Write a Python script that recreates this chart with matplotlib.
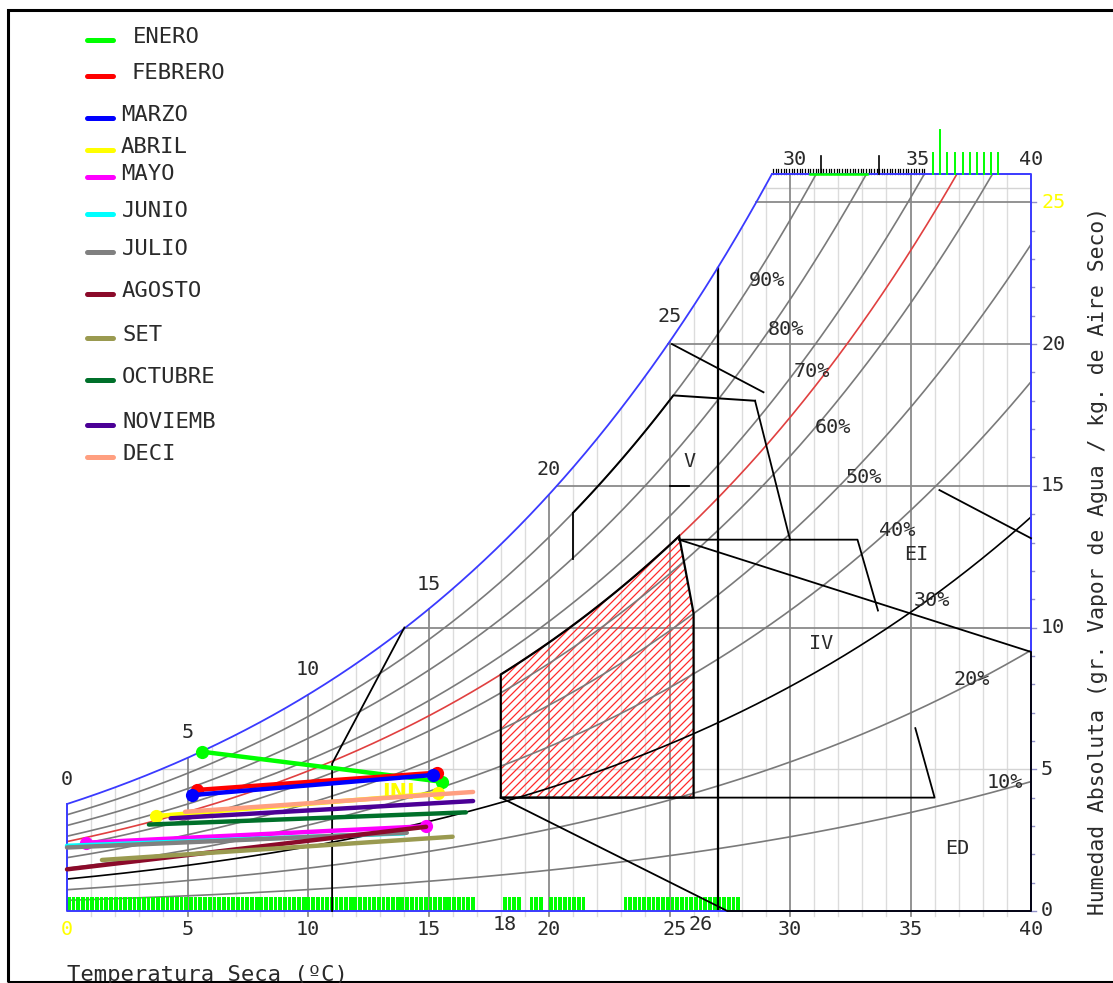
import numpy as np
import matplotlib
matplotlib.use("Agg")
import matplotlib.pyplot as plt
from matplotlib.patches import Polygon, Rectangle

# ---------------- data ----------------
months = ["ENERO", "FEBRERO", "MARZO", "ABRIL", "MAYO", "JUNIO", "JULIO",
          "AGOSTO", "SET", "OCTUBRE", "NOVIEMB", "DECI"]
month_colors = ["#00ff00", "#ff0000", "#0000ff", "#ffff00", "#ff00ff", "#00ffff",
                "#808080", "#8b0a2a", "#9a9a50", "#00702a", "#4b0096", "#ff9f80"]
# temperature (C) at the two ends of each monthly line
month_t1 = [5.6, 5.4, 5.2, 3.7, 0.8, 0.0, 0.0, 0.0, 1.45, 3.4, 4.3, 4.9]
month_t2 = [15.55, 15.35, 15.2, 15.4, 14.9, 14.0, 14.1, 14.9, 16.0, 16.55, 16.85, 16.85]
# absolute humidity (g/kg) at the two ends
month_w1 = [5.62, 4.27, 4.09, 3.35, 2.41, 2.30, 2.24, 1.47, 1.80, 3.05, 3.27, 3.50]
month_w2 = [4.56, 4.88, 4.80, 4.15, 2.99, 2.74, 2.76, 2.97, 2.62, 3.48, 3.88, 4.20]
month_dots = [True, True, True, True, True, False, False, False, False, False, False, False]

rh_levels = [10, 20, 30, 40, 50, 60, 70, 80, 90]
rh_comfort = 65
x_ticks = [0, 5, 10, 15, 20, 25, 30, 35, 40]
y_ticks = [0, 5, 10, 15, 20, 25]
temp_labels_sat = [0, 5, 10, 15, 20, 25]

# green occupancy ranges at the bottom (C)
green_ranges = [(0.0, 16.9), (18.1, 18.9), (19.2, 19.8), (20.0, 21.6), (23.1, 27.9)]
green_top_ticks = [35.92, 36.53, 36.85, 37.16, 37.47, 37.75, 38.05, 38.34, 38.64]
green_top_tall = [36.22]

# zones (T, w)
comfort_t = (18.0, 25.4, 26.0)
zone_lines = [
    [(14.0, 10.0), (11.0, 5.2), (11.0, 0.0)],
    [(18.0, 4.0), (36.0, 4.0), (35.2, 6.45)],
    [(18.0, 4.0), (27.4, 0.0), (40.0, 0.0), (40.0, 9.14), (25.4, 13.1)],
    [(25.4, 13.1), (32.8, 13.1), (33.65, 10.6)],
    [(28.55, 18.0), (30.0, 13.1)],
    [(25.1, 20.0), (28.9, 18.3)],
    [(36.2, 14.85), (40.0, 13.15)],
    [(25.0, 15.0), (25.8, 15.0)],
    [(21.0, 12.43), (21.0, 14.0)],
]
vent_curve = (21.0, 25.16, 18.0)   # 90% RH arc from 21C to 25.16C then flat at 18 g/kg
t_vertical_black = 27.0

# ---------------- psychrometrics ----------------
P = 101.325
def pws(T):
    return 0.61121 * np.exp((18.678 - T / 234.5) * (T / (257.14 + T)))
def wrat(T, phi):
    p = phi * pws(T)
    return 621.98 * p / (P - p)
Tg = np.linspace(0, 40, 4001)
wsat_g = wrat(Tg, 1.0)
def tsat(w):
    return np.interp(w, wsat_g, Tg)

# ---------------- figure ----------------
W, H = 1113, 983
fig = plt.figure(figsize=(W / 100, H / 100), dpi=100)
X0, X1, Y0, Y1 = 67, 1031, 911, 174
ax = fig.add_axes([X0 / W, 1 - Y0 / H, (X1 - X0) / W, (Y0 - Y1) / H])
ax.set_xlim(0, 40)
ax.set_ylim(0, 26)
ax.axis("off")
WTOP = 26.0
FONT = "DejaVu Sans Mono"
TXT = "#2a2a2a"
PXT = (X1 - X0) / 40.0
PXW = (Y0 - Y1) / 26.0

def fpx(x, y):
    return (x / W, 1 - y / H)

# vertical grid
for t in range(1, 40):
    top = min(wrat(t, 1.0), WTOP)
    if t % 5 == 0:
        ax.plot([t, t], [-0.18, top], color="#8a8a8a", lw=1.3, zorder=2, clip_on=False)
    else:
        ax.plot([t, t], [-0.18, top], color="#dcdcdc", lw=1.0, zorder=1, clip_on=False)
ax.plot([t_vertical_black] * 2, [0, wrat(t_vertical_black, 1.0)], color="black", lw=1.6, zorder=4)

# horizontal grid
for w in [5, 25.5]:
    ax.plot([tsat(w), 40], [w, w], color="#d4d4d4", lw=1.0, zorder=1)
for w in [10, 15, 20, 25]:
    ax.plot([tsat(w), 40], [w, w], color="#8a8a8a", lw=1.3, zorder=2)

# right axis ticks
for w in range(0, 26):
    L = 0.22 if w % 5 == 0 else 0.13
    ax.plot([40, 40 + L], [w, w], color="#9090c8", lw=1.0, clip_on=False, zorder=2)

# RH curves
for rh in rh_levels:
    w = wrat(Tg, rh / 100)
    m = w <= WTOP
    col = "black" if rh == 30 else "#7a7a7a"
    ax.plot(Tg[m], w[m], color=col, lw=1.2, zorder=3)
w = wrat(Tg, rh_comfort / 100)
m = w <= WTOP
ax.plot(Tg[m], w[m], color="#e04040", lw=1.2, zorder=3)

# saturation + borders (blue)
m = wsat_g <= WTOP
t_top = tsat(WTOP)
ax.plot(np.r_[Tg[m], t_top], np.r_[wsat_g[m], WTOP], color="#3a3aff", lw=1.3, zorder=4)
ax.plot([t_top, 40, 40, 0, 0], [WTOP, WTOP, 0, 0, wsat_g[0]], color="#3a3aff", lw=1.4,
        zorder=4, clip_on=False)

# comfort zone hatch (diagonal red lines clipped to the zone)
t_arc = np.linspace(comfort_t[0], comfort_t[1], 60)
poly = np.c_[np.r_[comfort_t[0], t_arc, comfort_t[2], comfort_t[2]],
             np.r_[4.0, wrat(t_arc, rh_comfort / 100), 10.5, 4.0]]
clip_poly = Polygon(poly, closed=True, facecolor="none", edgecolor="none", transform=ax.transData)
ax.add_patch(clip_poly)
for c in np.arange(-700, 300, 8.0):
    xs = np.array([15.0, 30.0])
    ys = (xs * PXT + c) / PXW
    ln, = ax.plot(xs, ys, color="#ff2a2a", lw=0.9, zorder=2.5)
    ln.set_clip_path(clip_poly)
ax.add_patch(Polygon(poly, closed=True, facecolor="none", edgecolor="black", lw=1.6, zorder=5))

# ventilation zone (V)
t_v = np.linspace(vent_curve[0], vent_curve[1], 40)
ax.plot(np.r_[t_v, 28.55], np.r_[wrat(t_v, 0.9), vent_curve[2]], color="black", lw=1.4, zorder=5)
for seg in zone_lines:
    xs, ys = zip(*seg)
    ax.plot(xs, ys, color="black", lw=1.3, zorder=5, clip_on=False)

# green bars at the bottom (texture filling each occupied range)
for a, b in green_ranges:
    pos = np.arange(a + 0.07, b, 0.195)
    ax.bar(pos, 0.5, width=0.155, bottom=0, color="#00ff00", linewidth=0, zorder=3, align="center")

# top scale
for t in np.arange(29.3, 35.65, 0.11):
    ax.plot([t, t], [WTOP, WTOP + 0.17], color="black", lw=0.9, clip_on=False, zorder=3)
for t in [31.3, 33.7]:
    ax.plot([t, t], [WTOP, WTOP + 0.62], color="black", lw=1.2, clip_on=False, zorder=4)
ax.plot([30.83, 33.2], [WTOP, WTOP], color="#00ff00", lw=1.8, zorder=5, clip_on=False)
for t in green_top_ticks:
    ax.plot([t, t], [WTOP, WTOP + 0.75], color="#00ff00", lw=1.4, clip_on=False, zorder=4)
for t in green_top_tall:
    ax.plot([t, t], [WTOP, WTOP + 1.55], color="#00ff00", lw=1.4, clip_on=False, zorder=4)

# month lines
ax.text(13.75, 4.16, "INI", color="#ffff00", fontsize=15, fontweight="bold", family="DejaVu Sans",
        ha="center", va="center", zorder=6)
for i, name in enumerate(months):
    ax.plot([month_t1[i], month_t2[i]], [month_w1[i], month_w2[i]], color=month_colors[i], lw=3.2,
            solid_capstyle="round", zorder=7 + i * 0.1, clip_on=False,
            marker="o" if month_dots[i] else None, ms=9.5, markeredgewidth=0)

# labels
kw = dict(family=FONT, fontsize=14.5, color=TXT, zorder=10)
for t in x_ticks:
    col = "#ffff00" if t == 0 else TXT
    ax.text(t + (0.2 if t == 25 else 0), -0.67, str(t), ha="center", va="center",
            **{**kw, "color": col}, clip_on=False)
ax.text(18.15, -0.49, "18", ha="center", va="center", **kw)
ax.text(26.3, -0.49, "26", ha="center", va="center", **kw)
for w in y_ticks:
    col = "#ffff00" if w == 25 else TXT
    ax.text(40.42, w, str(w), ha="left", va="center", **{**kw, "color": col})
for t in temp_labels_sat:
    ax.annotate(str(t), (t, wrat(t, 1.0)), xytext=(0, 18), textcoords="offset points",
                ha="center", va="center", **kw)
ax.text(30.2, 26.5, "30", ha="center", va="center", **kw)
ax.text(35.3, 26.5, "35", ha="center", va="center", **kw)
ax.text(40.0, 26.5, "40", ha="center", va="center", **kw)
rh_pos = {90: (29.05, 22.26), 80: (29.83, 20.5), 70: (30.91, 19.02), 60: (31.78, 17.04),
          50: (33.07, 15.31), 40: (34.44, 13.44), 30: (35.89, 10.97), 20: (37.55, 8.18),
          10: (38.92, 4.52)}
for rh, (t, w) in rh_pos.items():
    ax.text(t, w, f"{rh}%", ha="center", va="center", **kw)
for s, (t, w) in {"V": (25.85, 15.84), "IV": (31.29, 9.45), "EI": (35.23, 12.59),
                  "ED": (36.93, 2.19)}.items():
    ax.text(t, w, s, ha="center", va="center", **kw)

fig.text(*fpx(67, 975), "Temperatura Seca (ºC)", family=FONT, fontsize=16, ha="left",
         va="center", color=TXT)
fig.text(*fpx(1098, 561), "Humedad Absoluta (gr. Vapor de Agua / kg. de Aire Seco)", family=FONT,
         fontsize=15.4, rotation=90, ha="center", va="center", color=TXT)

# legend
leg_y = [40, 76, 118, 150, 177, 214, 252, 294, 338, 380, 425, 457]
leg_tx = [133, 131, 121, 121, 121, 122, 122, 122, 122, 122, 122, 122]
for i, name in enumerate(months):
    y = leg_y[i]
    fig.add_artist(plt.Line2D([87 / W, 113 / W], [1 - y / H] * 2, color=month_colors[i], lw=3.6,
                              solid_capstyle="round", transform=fig.transFigure))
    fig.text(*fpx(leg_tx[i], y - 3), name, family=FONT, fontsize=16, ha="left", va="center",
             color=TXT)

# frame
fig.add_artist(Rectangle((8 / W, 1 - 982 / H), (W + 10 - 8) / W, (982 - 10) / H, fill=False,
                         lw=2.2, ec="black", transform=fig.transFigure))

fig.savefig("out.png", dpi=100)
